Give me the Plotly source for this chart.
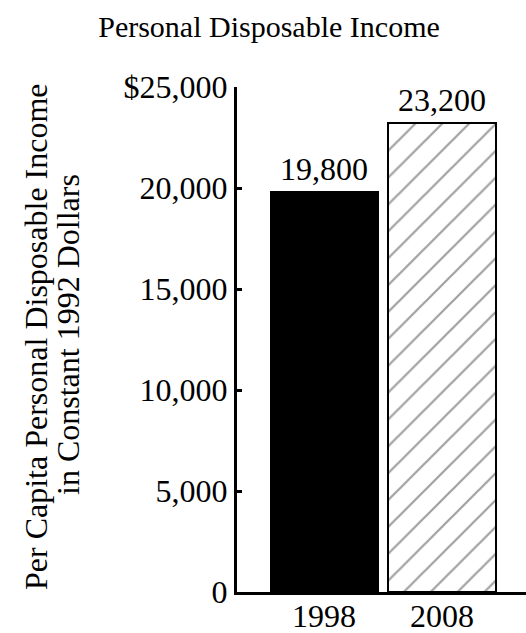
import plotly.graph_objects as go

years = ["1998", "2008"]
income = [19800, 23200]
value_labels = ["19,800", "23,200"]
tick_vals = [0, 5000, 10000, 15000, 20000, 25000]
tick_text = ["0", "5,000", "10,000", "15,000", "20,000", "$25,000"]
title_text = "Personal Disposable Income"
ytitle_lines = ["Per Capita Personal Disposable Income", "in Constant 1992 Dollars"]

FONT = "Liberation Serif"
W, H = 526, 633
L, R, T, B = 237, 0, 87, 41
PW = W - L - R
PH = H - T - B

fig = go.Figure()
fig.add_trace(go.Bar(
    x=years,
    y=income,
    width=0.91,
    marker=dict(
        color=["black", "white"],
        line=dict(color="black", width=2),
        pattern=dict(shape=["", "/"], fgcolor="black", bgcolor="white",
                     size=19, solidity=0.12),
    ),
    showlegend=False,
    hoverinfo="skip",
))

# value labels above bars (category axis: annotations use category index)
for i, (val, lab) in enumerate(zip(income, value_labels)):
    fig.add_annotation(
        x=i, y=val, xref="x", yref="y", text=lab, showarrow=False,
        xanchor="center", yanchor="bottom", yshift=4, borderpad=0,
        font=dict(family=FONT, size=32, color="black"),
    )

# category labels below the axis
for i, yr in enumerate(years):
    fig.add_annotation(
        x=i, y=0, xref="x", yref="y", text=yr, showarrow=False,
        xanchor="center", yanchor="middle", yshift=-(616 - (H - B)), borderpad=0,
        font=dict(family=FONT, size=32, color="black"),
    )

fig.update_layout(
    width=W, height=H,
    margin=dict(l=L, r=R, t=T, b=B),
    paper_bgcolor="white", plot_bgcolor="white",
    font=dict(family=FONT, size=32, color="black"),
    title=dict(text=title_text, x=269 / W, xanchor="center",
               y=1 - 26 / H, yanchor="middle",
               font=dict(family=FONT, size=30, color="black")),
    bargap=0,
)
fig.update_xaxes(
    type="category", range=[-0.742, 1.714],
    showline=True, linecolor="black", linewidth=3,
    ticks="", showticklabels=False, showgrid=False, zeroline=False,
)
fig.update_yaxes(
    range=[0, 25000], tickvals=tick_vals, ticktext=tick_text,
    showline=True, linecolor="black", linewidth=3,
    ticks="inside", ticklen=5, tickwidth=3, tickcolor="black",
    showgrid=False, zeroline=False,
    tickfont=dict(family=FONT, size=32, color="black"),
)
for line_text, cx, cy in zip(ytitle_lines, [36, 68], [337, 335]):
    fig.add_annotation(
        text=line_text,
        textangle=-90, xref="paper", yref="paper",
        x=(cx - L) / PW, y=(H - B - cy) / PH,
        xanchor="center", yanchor="middle", showarrow=False,
        font=dict(family=FONT, size=32, color="black"),
    )

fig.write_html(
    "out.html",
    config={"displayModeBar": False},
    post_script="document.body.style.margin='0';document.body.style.overflow='hidden';",
)
